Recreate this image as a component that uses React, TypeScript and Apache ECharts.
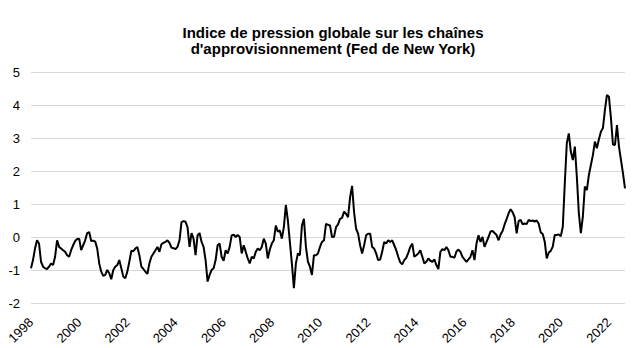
import React, { useEffect, useRef } from "react";
import * as echarts from "echarts";

const startYear = 1998;
const title = "Indice de pression globale sur les chaînes\nd'approvisionnement (Fed de New York)";

// Monthly values, Jan 1998 onward
const v1998_2001 = [-0.95, -0.7, -0.35, -0.1, -0.2, -0.75, -0.9, -0.95, -0.97, -0.9, -0.8, -0.85,
  -0.6, -0.1, -0.3, -0.35, -0.4, -0.45, -0.55, -0.6, -0.4, -0.25, -0.12, -0.06,
  -0.05, -0.4, -0.25, -0.1, 0.12, 0.15, -0.12, -0.11, -0.14, -0.35, -0.8, -1.05,
  -1.18, -1.15, -1.0, -1.1, -1.28, -1.0, -0.9, -0.85, -0.7, -0.95, -1.2, -1.25];
const v2002_2005 = [-1.05, -0.75, -0.42, -0.43, -0.35, -0.3, -0.55, -0.9, -0.97, -1.05, -1.12, -0.8,
  -0.6, -0.5, -0.4, -0.3, -0.45, -0.22, -0.18, -0.15, -0.1, -0.18, -0.32, -0.34,
  -0.37, -0.3, -0.1, 0.45, 0.48, 0.46, 0.3, -0.3, 0.12, -0.05, -0.55, 0.05,
  0.12, -0.15, -0.3, -0.7, -1.35, -1.15, -1.0, -0.95, -0.7, -0.25, -0.2, -0.6];
const v2006_2009 = [-0.72, -0.4, -0.5, -0.3, 0.05, 0.07, 0.0, 0.06, 0.0, -0.5, -0.25, -0.45,
  -0.65, -0.8, -0.6, -0.65, -0.45, -0.35, -0.4, -0.3, -0.05, -0.2, -0.65, -0.38,
  -0.2, -0.1, 0.35, 0.16, 0.2, -0.05, 0.3, 0.97, 0.5, -0.15, -0.8, -1.55,
  -0.8, -0.5, -0.55, 0.35, 0.55, -0.3, -0.75, -0.9, -1.15, -0.55, -0.55, -0.5];
const v2010_2013 = [-0.3, -0.15, -0.1, 0.4, 0.37, 0.35, 0.0, 0.01, 0.3, 0.38, 0.55, 0.58,
  0.77, 0.7, 0.6, 1.2, 1.55, 0.75, 0.25, 0.1, -0.25, -0.5, -0.25, 0.05,
  0.1, 0.1, -0.3, -0.35, -0.5, -0.7, -0.68, -0.45, -0.15, -0.2, -0.1, -0.15,
  -0.1, -0.25, -0.4, -0.6, -0.77, -0.83, -0.7, -0.63, -0.48, -0.3, -0.2, -0.6];
const v2014_2017 = [-0.55, -0.5, -0.4, -0.6, -0.8, -0.75, -0.65, -0.72, -0.75, -0.68, -0.85, -0.97,
  -0.45, -0.37, -0.4, -0.3, -0.4, -0.6, -0.6, -0.63, -0.44, -0.38, -0.45, -0.6,
  -0.68, -0.75, -0.68, -0.6, -0.4, -0.7, -0.2, 0.05, -0.15, 0.0, -0.3, -0.15,
  0.0, 0.17, 0.18, 0.12, 0.06, -0.1, 0.08, 0.18, 0.38, 0.54, 0.72, 0.84];
const v2018_2022 = [0.75, 0.6, 0.11, 0.48, 0.52, 0.38, 0.41, 0.39, 0.52, 0.48, 0.5, 0.47,
  0.5, 0.4, 0.14, 0.09, -0.14, -0.65, -0.47, -0.42, -0.29, 0.06, 0.06, 0.08,
  0.02, 0.31, 1.63, 2.84, 3.14, 2.59, 2.33, 2.74, 1.83, 0.72, 0.12, 0.62,
  1.53, 1.42, 1.88, 2.18, 2.48, 2.89, 2.69, 2.96, 3.19, 3.3, 3.85, 4.3,
  4.25, 3.6, 2.8, 2.79, 3.39, 2.74, 2.33, 1.93, 1.47];

const values = [...v1998_2001, ...v2002_2005, ...v2006_2009, ...v2010_2013, ...v2014_2017, ...v2018_2022];
const categories = values.map((_, i) => {
  const y = startYear + Math.floor(i / 12);
  const m = (i % 12) + 1;
  return `${y}-${m < 10 ? "0" + m : m}`;
});

export default function App() {
  const ref = useRef<HTMLDivElement>(null);
  useEffect(() => {
    if (!ref.current) return;
    const chart = echarts.init(ref.current, undefined, { renderer: "svg" });
    chart.setOption({
      animation: false,
      backgroundColor: "#fff",
      title: {
        text: title,
        left: 328,
        top: 19,
        textAlign: "center",
        textStyle: {
          fontFamily: "Liberation Sans, Arial, sans-serif",
          fontSize: 15,
          fontWeight: "bold",
          color: "#000",
          lineHeight: 16,
        },
      },
      grid: { left: 31, right: 7, top: 72, bottom: 45, containLabel: false },
      xAxis: {
        type: "category",
        data: categories,
        boundaryGap: false,
        axisLine: { show: false },
        axisTick: { show: false },
        splitLine: { show: false },
        axisLabel: {
          interval: (idx: number) => idx % 24 === 0,
          formatter: (v: string) => v.slice(0, 4),
          rotate: 45,
          margin: 17,
          fontFamily: "Liberation Sans, Arial, sans-serif",
          fontSize: 13,
          color: "#000",
        },
      },
      yAxis: {
        type: "value",
        min: -2,
        max: 5,
        interval: 1,
        axisLine: { show: false },
        axisTick: { show: false },
        splitLine: { lineStyle: { color: "#d9d9d9", width: 1 } },
        axisLabel: {
          margin: 11,
          fontFamily: "Liberation Sans, Arial, sans-serif",
          fontSize: 13,
          color: "#000",
        },
      },
      series: [
        {
          type: "line",
          data: values,
          symbol: "none",
          lineStyle: { color: "#000", width: 2 },
        },
      ],
    });
    return () => chart.dispose();
  }, []);
  return <div ref={ref} style={{ position: "fixed", left: 0, top: 0, width: 632, height: 348 }} />;
}
